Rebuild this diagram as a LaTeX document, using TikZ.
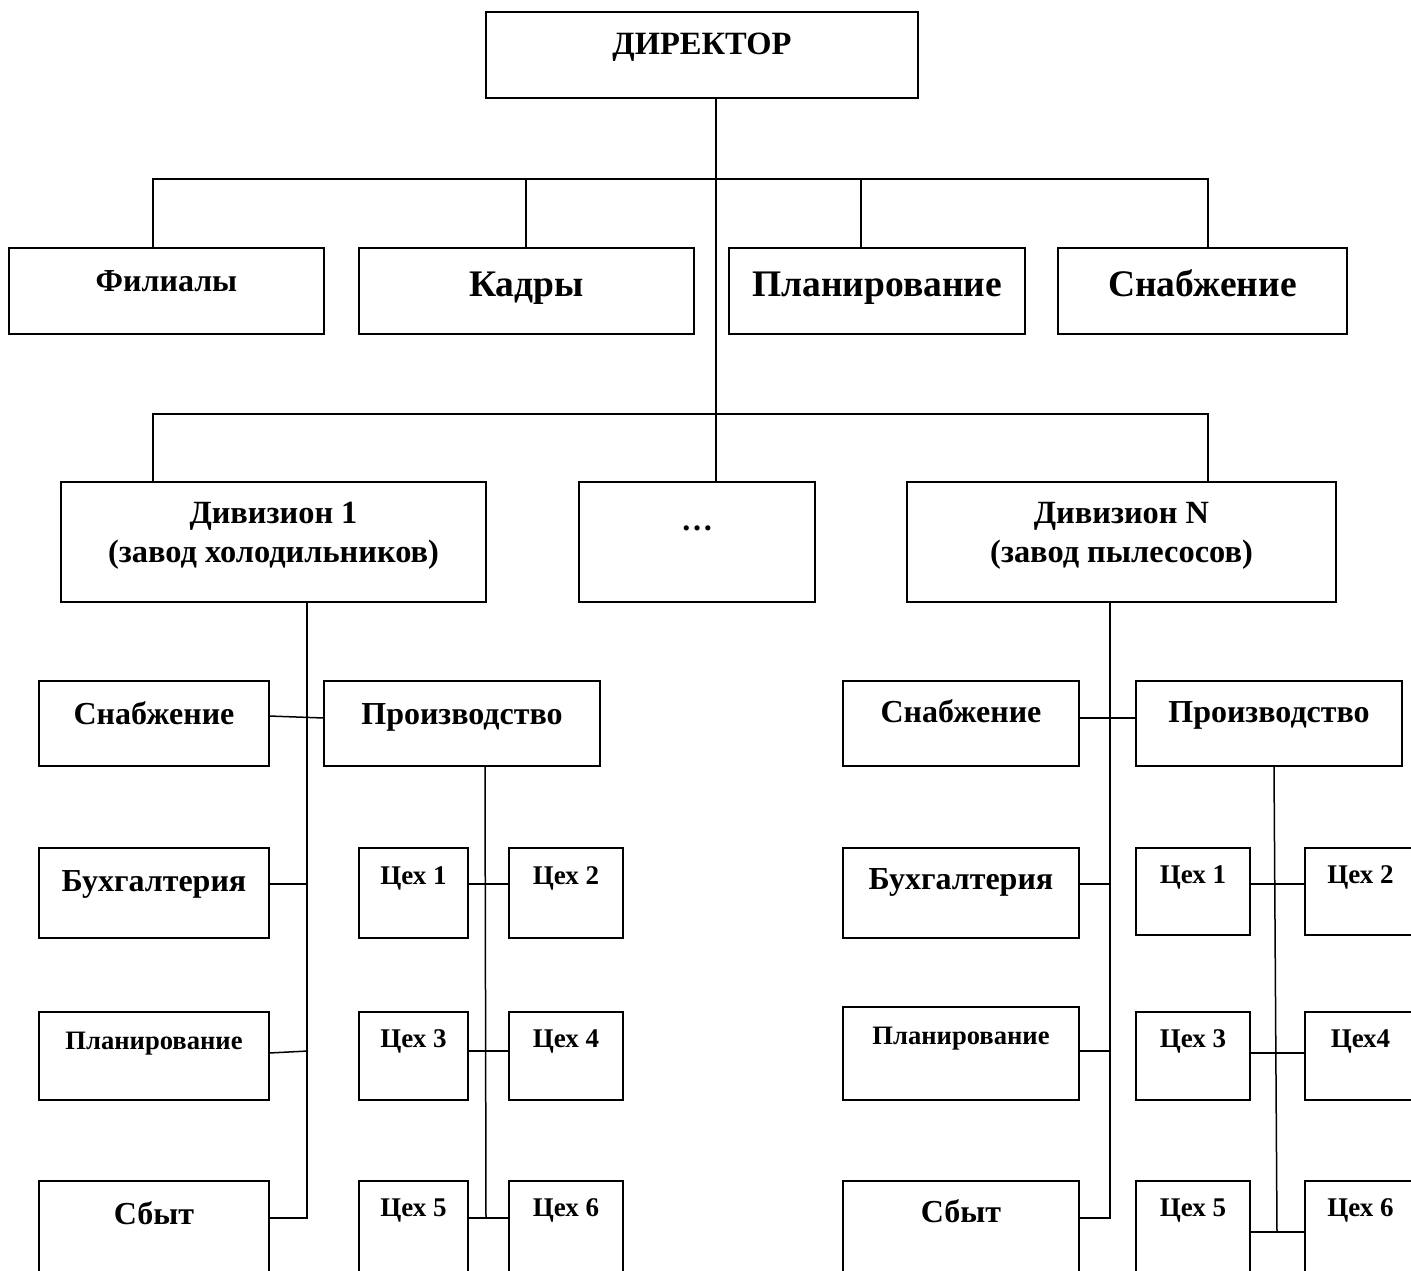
\documentclass[tikz,border=0pt]{standalone}
\usepackage{fontspec}
\setmainfont{Liberation Serif}
\newcommand\obox[8]{%
  \node[orgbox, minimum width={(#4-#2)*1pt}, minimum height={(#5-#3)*1pt}] (#1) at ({(#2+#4)/2},{(#3+#5)/2}) {};
  \node[lbl=#6] (#1-t) at ({(#2+#4)/2},#7) {#8};}
\newcommand\twoline[2]{\begin{tabular}[t]{@{}c@{}}#1\\#2\end{tabular}}
\begin{document}
\begin{tikzpicture}[x=1pt,y=-1pt,
  orgbox/.style={draw, line width=1.8pt, inner sep=0pt, outer sep=0pt},
  lbl/.style={inner sep=0pt, anchor=base, font=\bfseries\fontsize{#1}{39}\selectfont},
  conn/.style={line width=1.5pt}]
\clip (0,0) rectangle (1411,1270);
\fill[white] (0,0) rectangle (1411,1270);
% top levels
\obox{dir}{486}{12}{918}{98}{32.5}{54}{ДИРЕКТОР}
\obox{fil}{9}{248}{324}{334}{32}{291}{Филиалы}
\obox{kad}{359}{248}{694}{334}{37.5}{296}{Кадры}
\obox{plan}{729}{248}{1025}{334}{37.5}{296}{Планирование}
\obox{snab}{1058}{248}{1347}{334}{37.5}{296}{Снабжение}
\obox{d1}{61}{482}{486}{602}{32.4}{523}{\twoline{Дивизион 1}{(завод холодильников)}}
\obox{dots}{579}{482}{815}{602}{32}{530}{…}
\obox{dn}{907}{482}{1336}{602}{32.4}{523}{\twoline{Дивизион N}{(завод пылесосов)}}
% division 1
\obox{lsnab}{39}{681}{269}{766}{32}{724}{Снабжение}
\obox{lprod}{324}{681}{600}{766}{32}{724}{Производство}
\obox{lbuh}{39}{848}{269}{938}{32}{891}{Бухгалтерия}
\obox{lplan}{39}{1012}{269}{1100}{26.6}{1049}{Планирование}
\obox{lsbyt}{39}{1181}{269}{1300}{32}{1224}{Сбыт}
\obox{lc1}{359}{848}{468}{938}{27}{884}{Цех 1}
\obox{lc2}{509}{848}{623}{938}{27}{884}{Цех 2}
\obox{lc3}{359}{1012}{468}{1100}{27}{1047}{Цех 3}
\obox{lc4}{509}{1012}{623}{1100}{27}{1047}{Цех 4}
\obox{lc5}{359}{1181}{468}{1300}{27}{1216}{Цех 5}
\obox{lc6}{509}{1181}{623}{1300}{27}{1216}{Цех 6}
% division N
\obox{rsnab}{843}{681}{1079}{766}{32}{722}{Снабжение}
\obox{rprod}{1136}{681}{1402}{766}{32}{722}{Производство}
\obox{rbuh}{843}{848}{1079}{938}{32}{889}{Бухгалтерия}
\obox{rplan}{843}{1007}{1079}{1100}{26.6}{1044}{Планирование}
\obox{rsbyt}{843}{1181}{1079}{1300}{32}{1222}{Сбыт}
\obox{rc1}{1136}{848}{1250}{935}{27}{883}{Цех 1}
\obox{rc2}{1305}{848}{1416}{935}{27}{883}{Цех 2}
\obox{rc3}{1136}{1012}{1250}{1100}{27}{1047}{Цех 3}
\obox{rc4}{1305}{1012}{1416}{1100}{27}{1047}{Цех4}
\obox{rc5}{1136}{1181}{1250}{1300}{27}{1216}{Цех 5}
\obox{rc6}{1305}{1181}{1416}{1300}{27}{1216}{Цех 6}
% bus coordinates
\coordinate (b1M) at (716,179);
\coordinate (b1R) at (1208,179);
\coordinate (b1L) at (153,179);
\coordinate (k1) at (526,179);
\coordinate (p1) at (861,179);
\coordinate (b2R) at (1208,414);
\coordinate (b2L) at (153,414);
% connectors
\draw[conn] (dir.south -| b1M) -- (dots.north -| b1M);
\draw[conn] (fil.north -| b1L) |- (b1R) -- (snab.north -| b1R);
\draw[conn] (kad.north -| k1) -- (k1);
\draw[conn] (plan.north -| p1) -- (p1);
\draw[conn] (d1.north -| b2L) |- (b2R) -- (dn.north -| b2R);
% division 1
\draw[conn] (d1.south -| 307,0) |- (lsbyt.east |- 0,1218);
\draw[conn] (lsnab.east |- 0,716) -- (lprod.west |- 0,718);
\draw[conn] (lbuh.east |- 0,884) -- ++(39,0);
\draw[conn] (lplan.east |- 0,1053) -- ++(39,-2);
\draw[conn] (lprod.south -| 485,0) -- ++(1,452);
\draw[conn] (lc1.east |- 0,884) -- (lc2.west |- 0,884);
\draw[conn] (lc3.east |- 0,1051) -- (lc4.west |- 0,1051);
\draw[conn] (lc5.east |- 0,1218) -- (lc6.west |- 0,1218);
% division N
\draw[conn] (dn.south -| 1110,0) |- (rsbyt.east |- 0,1218);
\draw[conn] (rsnab.east |- 0,718) -- (rprod.west |- 0,718);
\draw[conn] (rbuh.east |- 0,884) -- ++(32,0);
\draw[conn] (rplan.east |- 0,1051) -- ++(32,0);
\draw[conn] (rprod.south -| 1274,0) -- ++(3,466);
\draw[conn] (rc1.east |- 0,884) -- (rc2.west |- 0,884);
\draw[conn] (rc3.east |- 0,1053) -- (rc4.west |- 0,1053);
\draw[conn] (rc5.east |- 0,1232) -- (rc6.west |- 0,1232);
\end{tikzpicture}
\end{document}
